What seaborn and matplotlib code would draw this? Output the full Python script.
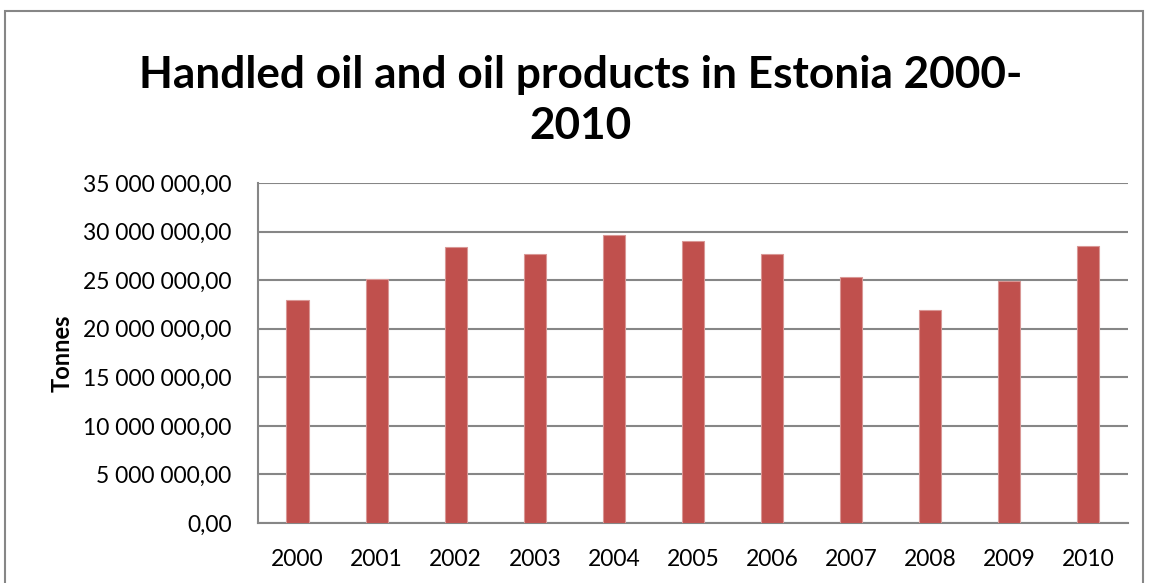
import matplotlib
matplotlib.use("Agg")
import matplotlib.pyplot as plt
from matplotlib.patches import Rectangle
from matplotlib.ticker import FuncFormatter
import seaborn as sns
import pandas as pd

years = ["2000", "2001", "2002", "2003", "2004", "2005",
         "2006", "2007", "2008", "2009", "2010"]
tonnes = [23.0e6, 25.1e6, 28.4e6, 27.7e6, 29.65e6, 29.0e6,
          27.7e6, 25.3e6, 21.95e6, 24.9e6, 28.55e6]
y_ticks = [0, 5e6, 10e6, 15e6, 20e6, 25e6, 30e6, 35e6]
title = "Handled oil and oil products in Estonia 2000-\n2010"
y_label = "Tonnes"

sns.set_theme(style="white")
plt.rcParams["font.family"] = ["Lato", "DejaVu Sans"]
plt.rcParams["text.color"] = "black"
plt.rcParams["axes.labelcolor"] = "black"

df = pd.DataFrame({"year": years, "tonnes": tonnes})

fig = plt.figure(figsize=(11.49, 5.83), dpi=100)
ax = fig.add_axes([0.2245, 0.1029, 0.7572, 0.5832])

sns.barplot(data=df, x="year", y="tonnes", color="#C0504D", width=0.28,
            saturation=1, edgecolor="#D99795", linewidth=0.8, ax=ax, zorder=3)

ax.set_ylim(0, 35e6)
ax.set_yticks(y_ticks)

def fmt(v, pos):
    s = f"{v:,.2f}"
    return s.replace(",", " ").replace(".", ",")

ax.yaxis.set_major_formatter(FuncFormatter(fmt))
ax.grid(axis="y", color="#868686", linewidth=1.5, zorder=0)
ax.set_axisbelow(True)
for side in ("top", "right"):
    ax.spines[side].set_visible(False)
for side in ("left", "bottom"):
    ax.spines[side].set_color("#868686")
    ax.spines[side].set_linewidth(1.5)
ax.tick_params(axis="both", length=0, labelsize=16.5, colors="black")
ax.tick_params(axis="y", pad=19)
ax.tick_params(axis="x", pad=19)
ax.set_xlabel("")
ax.set_ylabel(y_label, fontsize=17, fontweight="bold", labelpad=7)

fig.text(0.505, 0.828, title, ha="center", va="center", fontsize=31.8,
         fontweight="bold", linespacing=1.34, color="black")

fig.patches.append(Rectangle((0.0044, -0.05), 0.9904, 0.981 + 0.05,
                             transform=fig.transFigure, fill=False,
                             edgecolor="#868686", linewidth=1.5))

fig.savefig("out.png", dpi=100)
